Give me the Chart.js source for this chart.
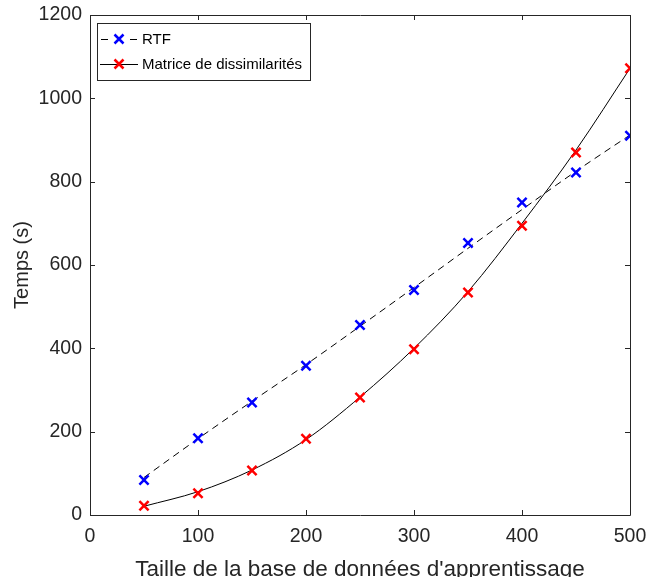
<!DOCTYPE html>
<html>
<head>
<meta charset="utf-8">
<script src="https://cdn.jsdelivr.net/npm/chart.js@4/dist/chart.umd.min.js"></script>
<style>
  html, body { margin: 0; padding: 0; background: #fff; }
  #chart { display: block; }
</style>
</head>
<body>
<canvas id="chart" width="646" height="577"></canvas>
<script>
// values
const sizes = [50, 100, 150, 200, 250, 300, 350, 400, 450, 500];
const rtfTimes = [84, 184, 270, 358, 456, 540, 653, 750, 822, 910];
const matTimes = [22, 52, 107, 183, 282, 398, 534, 694, 870, 1072];
// fitted curves
const rtfFit = [90, 183, 273, 361, 453, 546, 640, 733, 825, 912];
const matFit = [21, 56, 108, 181, 283, 400, 536, 700, 876, 1072];

const xTicks = [0, 100, 200, 300, 400, 500];
const yTicks = [0, 200, 400, 600, 800, 1000, 1200];

const labelRTF = "RTF";
const labelMat = "Matrice de dissimilarités";

const FONT = "'Liberation Sans', Arial, Helvetica, sans-serif";
const INK = "#262626";

const pts = (vals) => sizes.map((x, i) => ({ x, y: vals[i] }));

function drawCross(ctx, cx, cy, color) {
  const r = 4.5;
  ctx.strokeStyle = color;
  ctx.lineWidth = 2.5;
  ctx.beginPath();
  ctx.moveTo(cx - r, cy - r); ctx.lineTo(cx + r, cy + r);
  ctx.moveTo(cx + r, cy - r); ctx.lineTo(cx - r, cy + r);
  ctx.stroke();
}

// MATLAB-like box with inward ticks, plus the legend
const boxPlugin = {
  id: "matlabBox",
  afterDraw(chart) {
    const { ctx, chartArea: a, scales: { x, y } } = chart;
    const len = 5;
    ctx.save();
    ctx.strokeStyle = INK;
    ctx.lineWidth = 1;
    ctx.beginPath();
    ctx.rect(Math.round(a.left) + 0.5, Math.round(a.top) + 0.5, Math.round(a.right - a.left), Math.round(a.bottom - a.top));
    xTicks.forEach(v => {
      const px = Math.round(x.getPixelForValue(v)) + 0.5;
      ctx.moveTo(px, a.bottom); ctx.lineTo(px, a.bottom - len);
      ctx.moveTo(px, a.top); ctx.lineTo(px, a.top + len);
    });
    yTicks.forEach(v => {
      const py = Math.round(y.getPixelForValue(v)) + 0.5;
      ctx.moveTo(a.left, py); ctx.lineTo(a.left + len, py);
      ctx.moveTo(a.right, py); ctx.lineTo(a.right - len, py);
    });
    ctx.stroke();

    // legend
    const lx = a.left + 7, ly = a.top + 8, lw = 213, lh = 57;
    ctx.fillStyle = "#fff";
    ctx.fillRect(lx, ly, lw, lh);
    ctx.strokeRect(lx + 0.5, ly + 0.5, lw, lh);

    // RTF: short dashes either side of the marker
    let ey = ly + 16;
    ctx.strokeStyle = "#000";
    ctx.lineWidth = 1;
    ctx.beginPath();
    ctx.moveTo(lx + 4, ey + 0.5); ctx.lineTo(lx + 11, ey + 0.5);
    ctx.moveTo(lx + 33, ey + 0.5); ctx.lineTo(lx + 40, ey + 0.5);
    ctx.stroke();
    drawCross(ctx, lx + 22, ey, "#0000ff");
    ctx.fillStyle = "#000";
    ctx.font = "15px " + FONT;
    ctx.textBaseline = "middle";
    ctx.fillText(labelRTF, lx + 45, ey + 1);

    // Matrice: solid line through the marker
    ey = ly + 41;
    ctx.strokeStyle = "#000";
    ctx.lineWidth = 1;
    ctx.beginPath();
    ctx.moveTo(lx + 3, ey + 0.5); ctx.lineTo(lx + 41, ey + 0.5);
    ctx.stroke();
    drawCross(ctx, lx + 22, ey, "#ff0000");
    ctx.fillText(labelMat, lx + 45, ey + 1);
    ctx.restore();
  }
};

// drop the extra room Chart.js keeps for overhanging tick labels
const noOverhang = (s) => {
  s.paddingLeft = 0; s.paddingRight = 0; s.paddingTop = 0; s.paddingBottom = 0;
};

const markerStyle = (color) => ({
  showLine: false, pointStyle: "crossRot", pointRadius: 6.5, pointBorderWidth: 2.5,
  pointBorderColor: color, pointBackgroundColor: color
});

new Chart(document.getElementById("chart"), {
  type: "line",
  data: {
    datasets: [
      { label: labelRTF, data: pts(rtfTimes), ...markerStyle("#0000ff") },
      { label: labelMat, data: pts(matTimes), ...markerStyle("#ff0000") },
      {
        label: labelRTF + " fit", data: pts(rtfFit), borderColor: "#000", borderWidth: 1,
        borderDash: [7, 5], pointRadius: 0, cubicInterpolationMode: "monotone", fill: false
      },
      {
        label: labelMat + " fit", data: pts(matFit), borderColor: "#000", borderWidth: 1,
        pointRadius: 0, cubicInterpolationMode: "monotone", fill: false
      }
    ]
  },
  options: {
    responsive: false,
    animation: false,
    devicePixelRatio: 1,
    layout: { padding: { top: 15, right: 16, left: 0, bottom: 0 } },
    plugins: { legend: { display: false }, tooltip: { enabled: false } },
    scales: {
      x: {
        type: "linear", min: 0, max: 500,
        grid: { display: false, drawTicks: false }, border: { display: false },
        ticks: {
          stepSize: 100, padding: 10, color: INK, font: { family: FONT, size: 19.5 },
          callback: v => String(v)
        },
        title: {
          display: true, text: "Taille de la base de données d'apprentissage",
          color: INK, font: { family: FONT, size: 22.5 }, padding: { top: 0, bottom: -6 }
        },
        afterFit: s => { s.height = 62; noOverhang(s); }
      },
      y: {
        min: 0, max: 1200,
        grid: { display: false, drawTicks: false }, border: { display: false },
        ticks: {
          stepSize: 200, padding: 8, color: INK, font: { family: FONT, size: 19.5 },
          callback: v => String(v)
        },
        title: {
          display: true, text: "Temps (s)",
          color: INK, font: { family: FONT, size: 20 }, padding: { top: 10, bottom: 0 }
        },
        afterFit: s => { s.width = 90; noOverhang(s); }
      }
    }
  },
  plugins: [boxPlugin]
});
</script>
</body>
</html>
